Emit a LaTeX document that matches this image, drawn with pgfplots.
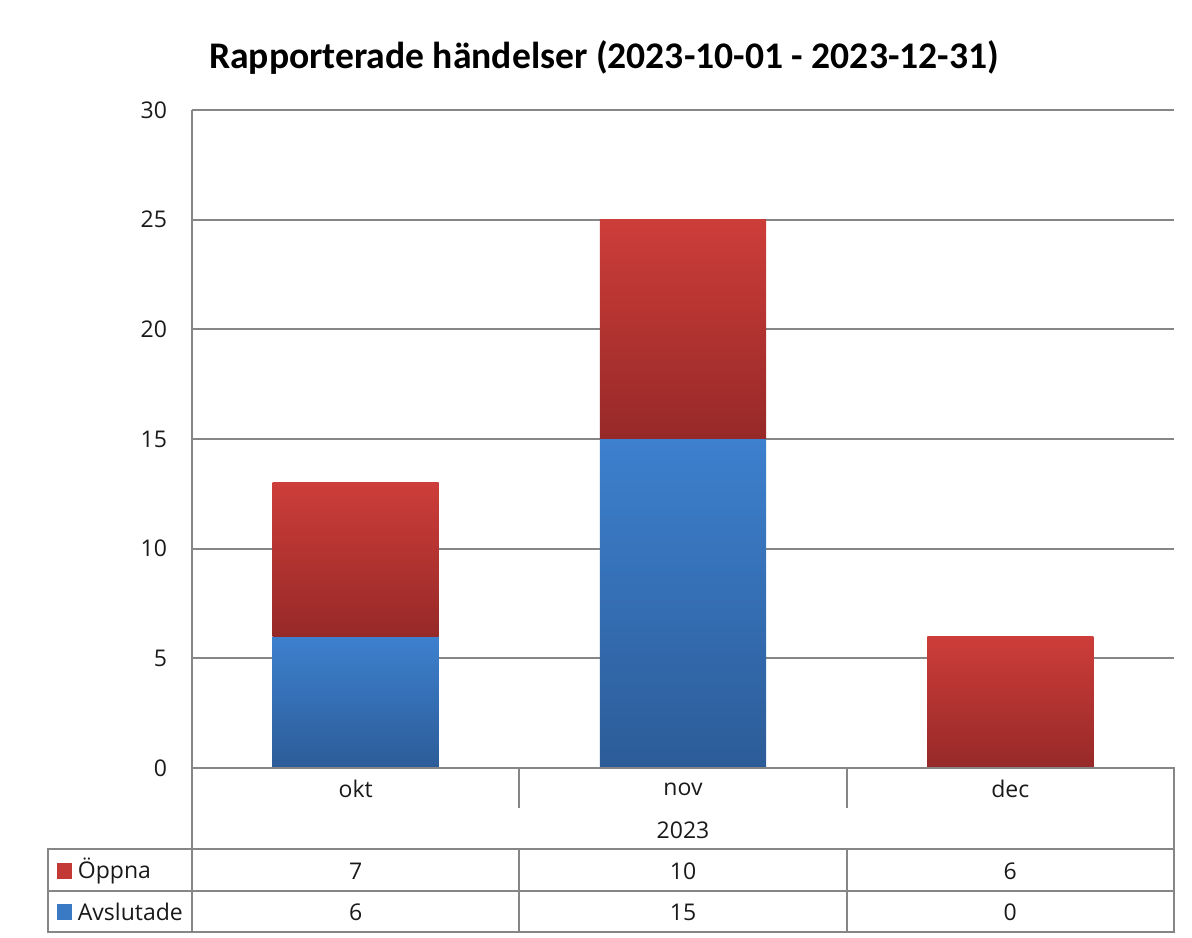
\documentclass[border=0pt]{standalone}
\usepackage{fontspec}
\setmainfont{Open Sans}
\newfontfamily\titlefont{Carlito}
\usepackage{pgfplots}
\usepackage{pgfplotstable}
\pgfplotsset{compat=1.18}

\definecolor{redtop}{RGB}{205,61,57}
\definecolor{redbot}{RGB}{150,41,40}
\definecolor{bluetop}{RGB}{61,128,206}
\definecolor{bluebot}{RGB}{44,92,152}
\definecolor{gridgray}{RGB}{134,134,134}

% month, closed (Avslutade), open (Öppna)
\pgfplotstableread{
x month avslutade oppna
0 okt 6 7
1 nov 15 10
2 dec 0 6
}\data

\newcommand\tabfont{\fontsize{11.5}{13}\selectfont}

\begin{document}
\begin{tikzpicture}
  \useasboundingbox (0,0) rectangle (596pt,468.5pt);
  \begin{axis}[
    at={(96pt,84.5pt)}, anchor=south west,
    scale only axis,
    width=491pt, height=329pt,
    ymin=0, ymax=30, ytick={0,5,...,30},
    xmin=-0.5, xmax=2.5,
    xtick=\empty,
    axis x line=none,
    axis y line*=left,
    y axis line style={draw=gridgray, line width=0.9pt, -},
    major tick length=0pt,
    ymajorgrids,
    grid style={draw=gridgray, line width=0.9pt},
    /pgf/number format/assume math mode=true,
    yticklabel style={font=\tabfont, xshift=-9pt, text=black!90},
    clip=false,
  ]
    % one shaded rectangle per segment, so each segment gets its own gradient
    \pgfplotsforeachungrouped \r in {0,1,2} {
      \pgfplotstablegetelem{\r}{avslutade}\of\data \let\av\pgfplotsretval
      \pgfplotstablegetelem{\r}{oppna}\of\data \let\op\pgfplotsretval
      \pgfmathsetmacro\xl{\r-0.2536}
      \pgfmathsetmacro\xr{\r+0.2536}
      \pgfmathsetmacro\tot{\av+\op}
      \ifdim\av pt>0pt
        \edef\temp{\noexpand\addplot[draw=none, top color=bluetop, bottom color=bluebot]
          coordinates {(\xl,0) (\xr,0) (\xr,\av) (\xl,\av)} -- cycle;}
        \temp
      \fi
      \ifdim\op pt>0pt
        \edef\temp{\noexpand\addplot[draw=none, top color=redtop, bottom color=redbot]
          coordinates {(\xl,\av) (\xr,\av) (\xr,\tot) (\xl,\tot)} -- cycle;}
        \temp
      \fi
    }
  \end{axis}
  \begin{scope}[x=0.5pt, y=-0.5pt, yshift=468.5pt, line width=0.9pt]
    \draw[gridgray] (192,768) -- (1174,768) -- (1174,932) -- (48,932) -- (48,849) -- (1174,849);
    \draw[gridgray] (48,891) -- (1174,891);
    \draw[gridgray] (192,110) -- (192,932);
    \draw[gridgray] (519.3,768) -- (519.3,808) (846.7,768) -- (846.7,808);
    \draw[gridgray] (519.3,849) -- (519.3,932) (846.7,849) -- (846.7,932);
    \begin{scope}[font=\tabfont, text=black!90]
      \foreach \r/\cx in {0/355.7, 1/683, 2/1010.3} {
        \pgfplotstablegetelem{\r}{month}\of\data
        \node at (\cx,789) {\pgfplotsretval};
        \pgfplotstablegetelem{\r}{oppna}\of\data
        \node at (\cx,871) {\pgfplotsretval};
        \pgfplotstablegetelem{\r}{avslutade}\of\data
        \node at (\cx,912) {\pgfplotsretval};
      }
      \node at (683,830) {2023};
      \fill[redtop!80!redbot] (57,863) rectangle (72,879);
      \fill[bluetop!80!bluebot] (57,904) rectangle (72,920);
      \node[anchor=west, inner sep=0pt] at (77,871) {Öppna};
      \node[anchor=west, inner sep=0pt] at (77,912) {Avslutade};
    \end{scope}
    \node[font=\titlefont\bfseries\fontsize{18.8}{22}\selectfont] at (604,58)
      {Rapporterade händelser (2023-10-01 - 2023-12-31)};
  \end{scope}
\end{tikzpicture}
\end{document}
